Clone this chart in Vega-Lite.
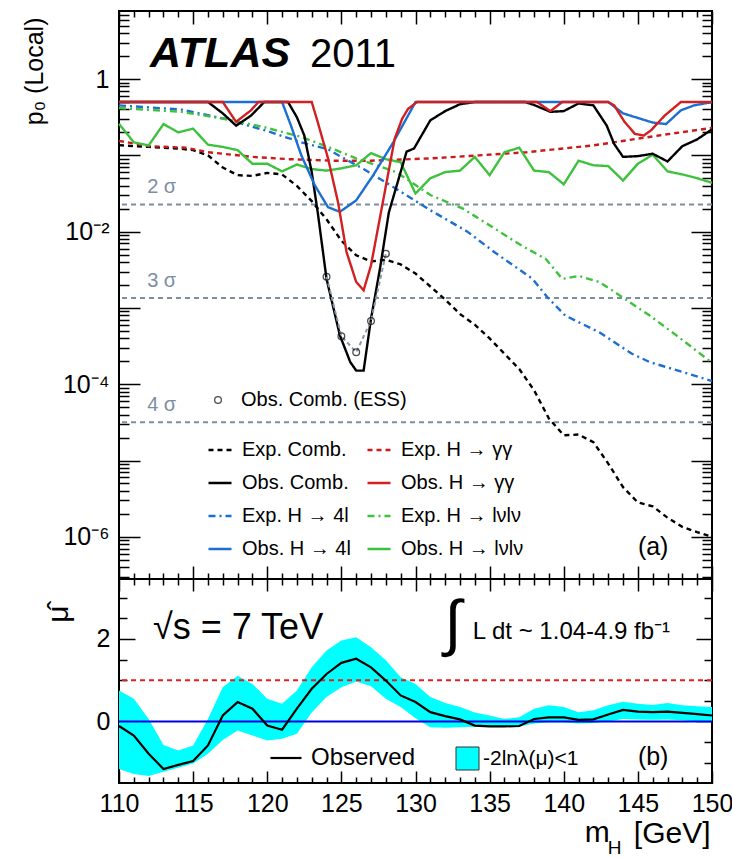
{
  "$schema": "https://vega.github.io/schema/vega-lite/v6.json",
  "background": "white",
  "padding": {"left": 21, "top": 9, "right": 5, "bottom": 5},
  "config": {
    "view": {"stroke": "#000", "strokeWidth": 2},
    "font": "Liberation Sans",
    "axis": {"domain": false, "grid": false, "tickColor": "#000", "tickWidth": 1.5, "labelFont": "Liberation Sans", "labelFontSize": 25, "labelColor": "#000", "titleFont": "Liberation Sans", "titleColor": "#000", "titleFontWeight": "normal", "labelFlush": false, "labelOverlap": false, "labelBound": false},
    "legend": {"labelFont": "Liberation Sans", "labelColor": "#000", "padding": 0, "labelLimit": 0},
    "text": {"font": "Liberation Sans", "color": "#000"}
  },
  "datasets": {
    "curves": [
      {"m":110,"p":0.136,"s":"Exp. Comb."},{"m":111,"p":0.132,"s":"Exp. Comb."},{"m":112,"p":0.129,"s":"Exp. Comb."},{"m":113,"p":0.126,"s":"Exp. Comb."},{"m":114,"p":0.123,"s":"Exp. Comb."},{"m":115,"p":0.117,"s":"Exp. Comb."},{"m":116,"p":0.100,"s":"Exp. Comb."},{"m":117,"p":0.0692,"s":"Exp. Comb."},{"m":118,"p":0.0550,"s":"Exp. Comb."},{"m":119,"p":0.0537,"s":"Exp. Comb."},{"m":120,"p":0.0589,"s":"Exp. Comb."},{"m":121,"p":0.0562,"s":"Exp. Comb."},{"m":122,"p":0.0398,"s":"Exp. Comb."},{"m":123,"p":0.0251,"s":"Exp. Comb."},{"m":124,"p":0.0145,"s":"Exp. Comb."},{"m":125,"p":0.0076,"s":"Exp. Comb."},{"m":126,"p":0.0049,"s":"Exp. Comb."},{"m":127,"p":0.00407,"s":"Exp. Comb."},{"m":128,"p":0.00427,"s":"Exp. Comb."},{"m":129,"p":0.00372,"s":"Exp. Comb."},{"m":130,"p":0.00282,"s":"Exp. Comb."},{"m":131,"p":0.00191,"s":"Exp. Comb."},{"m":132,"p":0.00129,"s":"Exp. Comb."},{"m":133,"p":0.000832,"s":"Exp. Comb."},{"m":134,"p":0.000603,"s":"Exp. Comb."},{"m":135,"p":0.000398,"s":"Exp. Comb."},{"m":136,"p":0.000251,"s":"Exp. Comb."},{"m":137,"p":0.000158,"s":"Exp. Comb."},{"m":138,"p":0.0000832,"s":"Exp. Comb."},{"m":139,"p":0.0000355,"s":"Exp. Comb."},{"m":140,"p":0.0000214,"s":"Exp. Comb."},{"m":141,"p":0.0000219,"s":"Exp. Comb."},{"m":142,"p":0.0000174,"s":"Exp. Comb."},{"m":143,"p":0.00000912,"s":"Exp. Comb."},{"m":144,"p":0.00000447,"s":"Exp. Comb."},{"m":145,"p":0.00000282,"s":"Exp. Comb."},{"m":146,"p":0.00000251,"s":"Exp. Comb."},{"m":147,"p":0.00000178,"s":"Exp. Comb."},{"m":148,"p":0.00000135,"s":"Exp. Comb."},{"m":149,"p":0.00000115,"s":"Exp. Comb."},{"m":150,"p":0.000001,"s":"Exp. Comb."},
      {"m":110,"p":0.155,"s":"Exp. H → γγ"},{"m":112,"p":0.132,"s":"Exp. H → γγ"},{"m":114.5,"p":0.126,"s":"Exp. H → γγ"},{"m":116,"p":0.110,"s":"Exp. H → γγ"},{"m":119,"p":0.0955,"s":"Exp. H → γγ"},{"m":121.5,"p":0.0891,"s":"Exp. H → γγ"},{"m":124.5,"p":0.0851,"s":"Exp. H → γγ"},{"m":127,"p":0.0851,"s":"Exp. H → γγ"},{"m":131,"p":0.0912,"s":"Exp. H → γγ"},{"m":134.3,"p":0.100,"s":"Exp. H → γγ"},{"m":137.5,"p":0.110,"s":"Exp. H → γγ"},{"m":142,"p":0.135,"s":"Exp. H → γγ"},{"m":146.4,"p":0.182,"s":"Exp. H → γγ"},{"m":150,"p":0.229,"s":"Exp. H → γγ"},
      {"m":110,"p":0.452,"s":"Exp. H → 4l"},{"m":114.2,"p":0.398,"s":"Exp. H → 4l"},{"m":117.1,"p":0.302,"s":"Exp. H → 4l"},{"m":119.8,"p":0.214,"s":"Exp. H → 4l"},{"m":122.3,"p":0.148,"s":"Exp. H → 4l"},{"m":124.1,"p":0.120,"s":"Exp. H → 4l"},{"m":125,"p":0.0955,"s":"Exp. H → 4l"},{"m":126.5,"p":0.0661,"s":"Exp. H → 4l"},{"m":128.3,"p":0.0407,"s":"Exp. H → 4l"},{"m":131,"p":0.0191,"s":"Exp. H → 4l"},{"m":133.5,"p":0.0100,"s":"Exp. H → 4l"},{"m":135.4,"p":0.00525,"s":"Exp. H → 4l"},{"m":137.9,"p":0.0024,"s":"Exp. H → 4l"},{"m":138.9,"p":0.00138,"s":"Exp. H → 4l"},{"m":140.1,"p":0.000794,"s":"Exp. H → 4l"},{"m":142.4,"p":0.000479,"s":"Exp. H → 4l"},{"m":144.6,"p":0.000251,"s":"Exp. H → 4l"},{"m":145.8,"p":0.000195,"s":"Exp. H → 4l"},{"m":148,"p":0.000145,"s":"Exp. H → 4l"},{"m":150,"p":0.00011,"s":"Exp. H → 4l"},
      {"m":110,"p":0.417,"s":"Exp. H → lνlν"},{"m":114.2,"p":0.372,"s":"Exp. H → lνlν"},{"m":117.1,"p":0.302,"s":"Exp. H → lνlν"},{"m":119.8,"p":0.234,"s":"Exp. H → lνlν"},{"m":122.3,"p":0.174,"s":"Exp. H → lνlν"},{"m":124.1,"p":0.129,"s":"Exp. H → lνlν"},{"m":126,"p":0.0912,"s":"Exp. H → lνlν"},{"m":128.7,"p":0.0603,"s":"Exp. H → lνlν"},{"m":131,"p":0.0302,"s":"Exp. H → lνlν"},{"m":133.2,"p":0.020,"s":"Exp. H → lνlν"},{"m":135.5,"p":0.0105,"s":"Exp. H → lνlν"},{"m":136.8,"p":0.00724,"s":"Exp. H → lνlν"},{"m":137.5,"p":0.00603,"s":"Exp. H → lνlν"},{"m":138.8,"p":0.00437,"s":"Exp. H → lνlν"},{"m":139.9,"p":0.0024,"s":"Exp. H → lνlν"},{"m":141,"p":0.00263,"s":"Exp. H → lνlν"},{"m":142.4,"p":0.00219,"s":"Exp. H → lνlν"},{"m":143.8,"p":0.00145,"s":"Exp. H → lνlν"},{"m":145.8,"p":0.000794,"s":"Exp. H → lνlν"},{"m":147.6,"p":0.000437,"s":"Exp. H → lνlν"},{"m":150,"p":0.000191,"s":"Exp. H → lνlν"},
      {"m":110,"p":0.259,"s":"Obs. H → lνlν"},{"m":111,"p":0.148,"s":"Obs. H → lνlν"},{"m":112,"p":0.135,"s":"Obs. H → lνlν"},{"m":113,"p":0.257,"s":"Obs. H → lνlν"},{"m":114,"p":0.200,"s":"Obs. H → lνlν"},{"m":115,"p":0.224,"s":"Obs. H → lνlν"},{"m":116,"p":0.138,"s":"Obs. H → lνlν"},{"m":117,"p":0.129,"s":"Obs. H → lνlν"},{"m":118,"p":0.117,"s":"Obs. H → lνlν"},{"m":119,"p":0.0776,"s":"Obs. H → lνlν"},{"m":120,"p":0.0776,"s":"Obs. H → lνlν"},{"m":121,"p":0.0617,"s":"Obs. H → lνlν"},{"m":122,"p":0.0759,"s":"Obs. H → lνlν"},{"m":123,"p":0.0661,"s":"Obs. H → lνlν"},{"m":124,"p":0.0631,"s":"Obs. H → lνlν"},{"m":125,"p":0.0676,"s":"Obs. H → lνlν"},{"m":126,"p":0.0741,"s":"Obs. H → lνlν"},{"m":127,"p":0.107,"s":"Obs. H → lνlν"},{"m":128,"p":0.0891,"s":"Obs. H → lνlν"},{"m":129,"p":0.0813,"s":"Obs. H → lνlν"},{"m":130,"p":0.0316,"s":"Obs. H → lνlν"},{"m":131,"p":0.0501,"s":"Obs. H → lνlν"},{"m":132,"p":0.0603,"s":"Obs. H → lνlν"},{"m":133,"p":0.0631,"s":"Obs. H → lνlν"},{"m":134,"p":0.0955,"s":"Obs. H → lνlν"},{"m":135,"p":0.055,"s":"Obs. H → lνlν"},{"m":136,"p":0.110,"s":"Obs. H → lνlν"},{"m":137,"p":0.126,"s":"Obs. H → lνlν"},{"m":138,"p":0.0631,"s":"Obs. H → lνlν"},{"m":139,"p":0.0603,"s":"Obs. H → lνlν"},{"m":140,"p":0.0417,"s":"Obs. H → lνlν"},{"m":141,"p":0.0851,"s":"Obs. H → lνlν"},{"m":142,"p":0.0741,"s":"Obs. H → lνlν"},{"m":143,"p":0.0724,"s":"Obs. H → lνlν"},{"m":144,"p":0.0468,"s":"Obs. H → lνlν"},{"m":145,"p":0.0776,"s":"Obs. H → lνlν"},{"m":146,"p":0.102,"s":"Obs. H → lνlν"},{"m":147,"p":0.0617,"s":"Obs. H → lνlν"},{"m":148,"p":0.0562,"s":"Obs. H → lνlν"},{"m":149,"p":0.0501,"s":"Obs. H → lνlν"},{"m":150,"p":0.0437,"s":"Obs. H → lνlν"},
      {"m":110,"p":0.5,"s":"Obs. Comb."},{"m":116,"p":0.5,"s":"Obs. Comb."},{"m":117,"p":0.355,"s":"Obs. Comb."},{"m":117.9,"p":0.245,"s":"Obs. Comb."},{"m":118.9,"p":0.331,"s":"Obs. Comb."},{"m":119.8,"p":0.5,"s":"Obs. Comb."},{"m":121.4,"p":0.5,"s":"Obs. Comb."},{"m":122,"p":0.316,"s":"Obs. Comb."},{"m":122.5,"p":0.182,"s":"Obs. Comb."},{"m":123,"p":0.0603,"s":"Obs. Comb."},{"m":123.4,"p":0.0182,"s":"Obs. Comb."},{"m":124,"p":0.0024,"s":"Obs. Comb."},{"m":124.9,"p":0.000437,"s":"Obs. Comb."},{"m":125.6,"p":0.000195,"s":"Obs. Comb."},{"m":126,"p":0.000151,"s":"Obs. Comb."},{"m":126.5,"p":0.000151,"s":"Obs. Comb."},{"m":127,"p":0.000724,"s":"Obs. Comb."},{"m":127.6,"p":0.00324,"s":"Obs. Comb."},{"m":128.2,"p":0.0178,"s":"Obs. Comb."},{"m":128.5,"p":0.0282,"s":"Obs. Comb."},{"m":129.4,"p":0.112,"s":"Obs. Comb."},{"m":129.9,"p":0.123,"s":"Obs. Comb."},{"m":131,"p":0.288,"s":"Obs. Comb."},{"m":132,"p":0.380,"s":"Obs. Comb."},{"m":133,"p":0.468,"s":"Obs. Comb."},{"m":134,"p":0.5,"s":"Obs. Comb."},{"m":137.4,"p":0.5,"s":"Obs. Comb."},{"m":138,"p":0.457,"s":"Obs. Comb."},{"m":139.1,"p":0.372,"s":"Obs. Comb."},{"m":140,"p":0.380,"s":"Obs. Comb."},{"m":141,"p":0.479,"s":"Obs. Comb."},{"m":142,"p":0.452,"s":"Obs. Comb."},{"m":142.9,"p":0.245,"s":"Obs. Comb."},{"m":143.4,"p":0.141,"s":"Obs. Comb."},{"m":144,"p":0.0955,"s":"Obs. Comb."},{"m":145,"p":0.0977,"s":"Obs. Comb."},{"m":146,"p":0.105,"s":"Obs. Comb."},{"m":147,"p":0.0832,"s":"Obs. Comb."},{"m":148,"p":0.132,"s":"Obs. Comb."},{"m":149,"p":0.162,"s":"Obs. Comb."},{"m":150,"p":0.219,"s":"Obs. Comb."},
      {"m":110,"p":0.5,"s":"Obs. H → 4l"},{"m":121,"p":0.5,"s":"Obs. H → 4l"},{"m":121.6,"p":0.245,"s":"Obs. H → 4l"},{"m":122.3,"p":0.1,"s":"Obs. H → 4l"},{"m":123.2,"p":0.0407,"s":"Obs. H → 4l"},{"m":124.1,"p":0.0209,"s":"Obs. H → 4l"},{"m":124.9,"p":0.0182,"s":"Obs. H → 4l"},{"m":126,"p":0.0257,"s":"Obs. H → 4l"},{"m":127.15,"p":0.055,"s":"Obs. H → 4l"},{"m":128.5,"p":0.148,"s":"Obs. H → 4l"},{"m":130,"p":0.5,"s":"Obs. H → 4l"},{"m":143,"p":0.5,"s":"Obs. H → 4l"},{"m":144,"p":0.355,"s":"Obs. H → 4l"},{"m":146,"p":0.269,"s":"Obs. H → 4l"},{"m":146.9,"p":0.257,"s":"Obs. H → 4l"},{"m":147.9,"p":0.389,"s":"Obs. H → 4l"},{"m":148.8,"p":0.452,"s":"Obs. H → 4l"},{"m":149.8,"p":0.49,"s":"Obs. H → 4l"},{"m":150,"p":0.5,"s":"Obs. H → 4l"},
      {"m":110,"p":0.5,"s":"Obs. H → γγ"},{"m":117,"p":0.5,"s":"Obs. H → γγ"},{"m":117.9,"p":0.275,"s":"Obs. H → γγ"},{"m":118.9,"p":0.389,"s":"Obs. H → γγ"},{"m":119.4,"p":0.5,"s":"Obs. H → γγ"},{"m":123,"p":0.5,"s":"Obs. H → γγ"},{"m":123.4,"p":0.275,"s":"Obs. H → γγ"},{"m":124.1,"p":0.0912,"s":"Obs. H → γγ"},{"m":124.77,"p":0.0245,"s":"Obs. H → γγ"},{"m":125.35,"p":0.0054,"s":"Obs. H → γγ"},{"m":126,"p":0.00219,"s":"Obs. H → γγ"},{"m":126.5,"p":0.0017,"s":"Obs. H → γγ"},{"m":127,"p":0.00363,"s":"Obs. H → γγ"},{"m":127.8,"p":0.0245,"s":"Obs. H → γγ"},{"m":128.6,"p":0.166,"s":"Obs. H → γγ"},{"m":129.1,"p":0.302,"s":"Obs. H → γγ"},{"m":129.5,"p":0.407,"s":"Obs. H → γγ"},{"m":130.1,"p":0.5,"s":"Obs. H → γγ"},{"m":138.2,"p":0.5,"s":"Obs. H → γγ"},{"m":139.1,"p":0.380,"s":"Obs. H → γγ"},{"m":139.9,"p":0.5,"s":"Obs. H → γγ"},{"m":143,"p":0.5,"s":"Obs. H → γγ"},{"m":143.4,"p":0.452,"s":"Obs. H → γγ"},{"m":144.1,"p":0.275,"s":"Obs. H → γγ"},{"m":144.8,"p":0.191,"s":"Obs. H → γγ"},{"m":145.4,"p":0.182,"s":"Obs. H → γγ"},{"m":145.9,"p":0.214,"s":"Obs. H → γγ"},{"m":146.8,"p":0.331,"s":"Obs. H → γγ"},{"m":147.9,"p":0.5,"s":"Obs. H → γγ"},{"m":150,"p":0.5,"s":"Obs. H → γγ"}
    ],
    "ess": [
      {"m":124,"p":0.00257},{"m":125,"p":0.000427},{"m":126,"p":0.000263},{"m":127,"p":0.000676},{"m":128,"p":0.00513}
    ],
    "sig": [
      {"lab":"2 σ","p":0.02275},{"lab":"3 σ","p":0.00135},{"lab":"4 σ","p":0.00003167}
    ],
    "mu": [
      {"m":110,"mu":-0.11,"lo":-1.15,"hi":0.75},{"m":111,"mu":-0.34,"lo":-1.27,"hi":0.55},{"m":112,"mu":-0.78,"lo":-1.32,"hi":0.06},{"m":113,"mu":-1.15,"lo":-1.22,"hi":-0.57},{"m":114,"mu":-1.05,"lo":-1.12,"hi":-0.70},{"m":115,"mu":-0.96,"lo":-1.02,"hi":-0.58},{"m":116,"mu":-0.58,"lo":-0.78,"hi":0.06},{"m":117,"mu":0.145,"lo":-0.45,"hi":0.83},{"m":118,"mu":0.47,"lo":-0.22,"hi":1.11},{"m":119,"mu":0.31,"lo":-0.34,"hi":0.91},{"m":120,"mu":-0.10,"lo":-0.46,"hi":0.55},{"m":121,"mu":-0.20,"lo":-0.42,"hi":0.43},{"m":122,"mu":0.31,"lo":-0.30,"hi":0.75},{"m":123,"mu":0.79,"lo":0.22,"hi":1.31},{"m":124,"mu":1.15,"lo":0.59,"hi":1.72},{"m":125,"mu":1.42,"lo":0.83,"hi":1.96},{"m":126,"mu":1.52,"lo":0.97,"hi":2.04},{"m":127,"mu":1.31,"lo":0.85,"hi":1.80},{"m":128,"mu":0.99,"lo":0.55,"hi":1.48},{"m":129,"mu":0.63,"lo":0.35,"hi":1.07},{"m":130,"mu":0.47,"lo":0.08,"hi":0.91},{"m":131,"mu":0.225,"lo":-0.14,"hi":0.59},{"m":132,"mu":0.13,"lo":-0.15,"hi":0.45},{"m":133,"mu":0.05,"lo":-0.14,"hi":0.35},{"m":134,"mu":-0.10,"lo":-0.13,"hi":0.22},{"m":135,"mu":-0.12,"lo":-0.13,"hi":0.145},{"m":136,"mu":-0.12,"lo":-0.12,"hi":0.06},{"m":137,"mu":-0.11,"lo":-0.12,"hi":0.10},{"m":138,"mu":0.06,"lo":-0.05,"hi":0.31},{"m":139,"mu":0.10,"lo":-0.02,"hi":0.39},{"m":140,"mu":0.10,"lo":-0.02,"hi":0.35},{"m":141,"mu":0.04,"lo":-0.05,"hi":0.225},{"m":142,"mu":0.05,"lo":-0.04,"hi":0.27},{"m":143,"mu":0.17,"lo":0.0,"hi":0.39},{"m":144,"mu":0.28,"lo":0.06,"hi":0.48},{"m":145,"mu":0.24,"lo":0.05,"hi":0.43},{"m":146,"mu":0.225,"lo":0.04,"hi":0.40},{"m":147,"mu":0.24,"lo":0.05,"hi":0.45},{"m":148,"mu":0.21,"lo":0.03,"hi":0.39},{"m":149,"mu":0.18,"lo":0.0,"hi":0.37},{"m":150,"mu":0.145,"lo":-0.02,"hi":0.35}
    ]
  },
  "spacing": 0,
  "bounds": "flush",
  "resolve": {
    "scale": {"x": "independent", "y": "independent", "stroke": "independent", "strokeDash": "independent", "fill": "independent", "shape": "independent"},
    "legend": {"stroke": "independent", "strokeDash": "independent", "fill": "independent", "shape": "independent"}
  },
  "vconcat": [
    {
      "width": 593,
      "height": 568,
      "resolve": {"axis": {"x": "independent", "y": "independent"}},
      "layer": [
        {
          "data": {"name": "sig"},
          "mark": {"type": "rule", "stroke": "#7d8ea2", "strokeWidth": 2, "strokeDash": [5, 4]},
          "encoding": {
            "y": {"field": "p", "type": "quantitative", "scale": {"type": "log", "domain": [2.8e-7, 7.8], "nice": false}, "axis": null}
          }
        },
        {
          "data": {"name": "sig"},
          "mark": {"type": "text", "align": "left", "baseline": "alphabetic", "dy": -11, "fontSize": 20, "color": "#7d8ea2"},
          "encoding": {
            "x": {"datum": 111.9, "type": "quantitative", "scale": {"domain": [110, 150], "nice": false, "zero": false}, "axis": null},
            "y": {"field": "p", "type": "quantitative", "scale": {"type": "log", "domain": [2.8e-7, 7.8], "nice": false}, "axis": null},
            "text": {"field": "lab"}
          }
        },
        {
          "data": {"name": "curves"},
          "transform": [{"filter": {"field": "s", "oneOf": ["Exp. Comb.", "Exp. H → γγ", "Exp. H → 4l", "Exp. H → lνlν"]}}],
          "mark": {"type": "line", "strokeWidth": 2.4},
          "encoding": {
            "x": {"field": "m", "type": "quantitative", "scale": {"domain": [110, 150], "nice": false, "zero": false},
                  "axis": {"orient": "bottom", "values": [110,115,120,125,130,135,140,145,150], "labels": false, "tickSize": -13, "title": null}},
            "y": {"field": "p", "type": "quantitative", "scale": {"type": "log", "domain": [2.8e-7, 7.8], "nice": false},
                  "axis": {"orient": "left", "values": [0.000001, 0.0001, 0.01, 1], "ticks": false, "labelPadding": 10, "labelFontSize": 25,
                           "labelExpr": "datum.value > 0.5 ? '1' : datum.value > 0.001 ? '10⁻²' : datum.value > 0.00001 ? '10⁻⁴' : '10⁻⁶'",
                           "title": "p₀ (Local)", "titleFontSize": 25, "titleAngle": 270, "titleAlign": "right", "titleBaseline": "middle", "titleX": -85, "titleY": 6}},
            "stroke": {"field": "s", "type": "nominal",
                       "scale": {"domain": ["Exp. Comb.", "Obs. Comb.", "Exp. H → 4l", "Obs. H → 4l", "Exp. H → γγ", "Obs. H → γγ", "Exp. H → lνlν", "Obs. H → lνlν"],
                                 "range": ["#000000", "#000000", "#1c6fd0", "#1c6fd0", "#cc1a1a", "#d21f1f", "#3ec23e", "#3ec23e"]},
                       "legend": {"orient": "none", "legendX": 88, "legendY": 426, "columns": 2, "title": null, "symbolType": "stroke", "symbolSize": 529, "symbolStrokeWidth": 2.4, "labelFontSize": 20, "labelOffset": 9, "rowPadding": 10, "columnPadding": 11}},
            "strokeDash": {"field": "s", "type": "nominal",
                       "scale": {"domain": ["Exp. Comb.", "Obs. Comb.", "Exp. H → 4l", "Obs. H → 4l", "Exp. H → γγ", "Obs. H → γγ", "Exp. H → lνlν", "Obs. H → lνlν"],
                                 "range": [[5, 4], [1, 0], [7, 4, 2, 4], [1, 0], [5, 4], [1, 0], [7, 4, 2, 4], [1, 0]]},
                       "legend": {"orient": "none", "legendX": 88, "legendY": 426, "columns": 2, "title": null, "symbolType": "stroke", "symbolSize": 529, "symbolStrokeWidth": 2.4, "labelFontSize": 20, "labelOffset": 9, "rowPadding": 10, "columnPadding": 11}}
          }
        },
        {
          "data": {"name": "curves"},
          "transform": [{"filter": {"field": "s", "equal": "Obs. H → lνlν"}}],
          "mark": {"type": "line", "strokeWidth": 2.4},
          "encoding": {
            "x": {"field": "m", "type": "quantitative", "scale": {"domain": [110, 150], "nice": false, "zero": false},
                  "axis": {"orient": "bottom", "values": [111,112,113,114,116,117,118,119,121,122,123,124,126,127,128,129,131,132,133,134,136,137,138,139,141,142,143,144,146,147,148,149], "labels": false, "tickSize": -6, "title": null}},
            "y": {"field": "p", "type": "quantitative", "scale": {"type": "log", "domain": [2.8e-7, 7.8], "nice": false},
                  "axis": {"orient": "left", "values": [0.000001, 0.00001, 0.0001, 0.001, 0.01, 0.1, 1], "labels": false, "tickSize": -21, "title": null}},
            "stroke": {"field": "s", "type": "nominal",
                       "scale": {"domain": ["Exp. Comb.", "Obs. Comb.", "Exp. H → 4l", "Obs. H → 4l", "Exp. H → γγ", "Obs. H → γγ", "Exp. H → lνlν", "Obs. H → lνlν"],
                                 "range": ["#000000", "#000000", "#1c6fd0", "#1c6fd0", "#cc1a1a", "#d21f1f", "#3ec23e", "#3ec23e"]},
                       "legend": {"orient": "none", "legendX": 88, "legendY": 426, "columns": 2, "title": null, "symbolType": "stroke", "symbolSize": 529, "symbolStrokeWidth": 2.4, "labelFontSize": 20, "labelOffset": 9, "rowPadding": 10, "columnPadding": 11}},
            "strokeDash": {"field": "s", "type": "nominal",
                       "scale": {"domain": ["Exp. Comb.", "Obs. Comb.", "Exp. H → 4l", "Obs. H → 4l", "Exp. H → γγ", "Obs. H → γγ", "Exp. H → lνlν", "Obs. H → lνlν"],
                                 "range": [[5, 4], [1, 0], [7, 4, 2, 4], [1, 0], [5, 4], [1, 0], [7, 4, 2, 4], [1, 0]]},
                       "legend": {"orient": "none", "legendX": 88, "legendY": 426, "columns": 2, "title": null, "symbolType": "stroke", "symbolSize": 529, "symbolStrokeWidth": 2.4, "labelFontSize": 20, "labelOffset": 9, "rowPadding": 10, "columnPadding": 11}}
          }
        },
        {
          "data": {"name": "curves"},
          "transform": [{"filter": {"field": "s", "equal": "Obs. Comb."}}],
          "mark": {"type": "line", "strokeWidth": 2.4},
          "encoding": {
            "x": {"field": "m", "type": "quantitative", "scale": {"domain": [110, 150], "nice": false, "zero": false},
                  "axis": {"orient": "top", "values": [110,115,120,125,130,135,140,145,150], "labels": false, "tickSize": -13, "title": null}},
            "y": {"field": "p", "type": "quantitative", "scale": {"type": "log", "domain": [2.8e-7, 7.8], "nice": false},
                  "axis": {"orient": "left", "values": [3e-7,4e-7,5e-7,6e-7,7e-7,8e-7,9e-7,2e-6,3e-6,4e-6,5e-6,6e-6,7e-6,8e-6,9e-6,2e-5,3e-5,4e-5,5e-5,6e-5,7e-5,8e-5,9e-5,2e-4,3e-4,4e-4,5e-4,6e-4,7e-4,8e-4,9e-4,0.002,0.003,0.004,0.005,0.006,0.007,0.008,0.009,0.02,0.03,0.04,0.05,0.06,0.07,0.08,0.09,0.2,0.3,0.4,0.5,0.6,0.7,0.8,0.9,2,3,4,5,6,7], "labels": false, "tickSize": -10, "title": null}},
            "stroke": {"field": "s", "type": "nominal",
                       "scale": {"domain": ["Exp. Comb.", "Obs. Comb.", "Exp. H → 4l", "Obs. H → 4l", "Exp. H → γγ", "Obs. H → γγ", "Exp. H → lνlν", "Obs. H → lνlν"],
                                 "range": ["#000000", "#000000", "#1c6fd0", "#1c6fd0", "#cc1a1a", "#d21f1f", "#3ec23e", "#3ec23e"]},
                       "legend": {"orient": "none", "legendX": 88, "legendY": 426, "columns": 2, "title": null, "symbolType": "stroke", "symbolSize": 529, "symbolStrokeWidth": 2.4, "labelFontSize": 20, "labelOffset": 9, "rowPadding": 10, "columnPadding": 11}},
            "strokeDash": {"field": "s", "type": "nominal",
                       "scale": {"domain": ["Exp. Comb.", "Obs. Comb.", "Exp. H → 4l", "Obs. H → 4l", "Exp. H → γγ", "Obs. H → γγ", "Exp. H → lνlν", "Obs. H → lνlν"],
                                 "range": [[5, 4], [1, 0], [7, 4, 2, 4], [1, 0], [5, 4], [1, 0], [7, 4, 2, 4], [1, 0]]},
                       "legend": {"orient": "none", "legendX": 88, "legendY": 426, "columns": 2, "title": null, "symbolType": "stroke", "symbolSize": 529, "symbolStrokeWidth": 2.4, "labelFontSize": 20, "labelOffset": 9, "rowPadding": 10, "columnPadding": 11}}
          }
        },
        {
          "data": {"name": "curves"},
          "transform": [{"filter": {"field": "s", "equal": "Obs. H → 4l"}}],
          "mark": {"type": "line", "strokeWidth": 2.4},
          "encoding": {
            "x": {"field": "m", "type": "quantitative", "scale": {"domain": [110, 150], "nice": false, "zero": false},
                  "axis": {"orient": "top", "values": [111,112,113,114,116,117,118,119,121,122,123,124,126,127,128,129,131,132,133,134,136,137,138,139,141,142,143,144,146,147,148,149], "labels": false, "tickSize": -6, "title": null}},
            "y": {"field": "p", "type": "quantitative", "scale": {"type": "log", "domain": [2.8e-7, 7.8], "nice": false},
                  "axis": {"orient": "right", "values": [0.000001, 0.00001, 0.0001, 0.001, 0.01, 0.1, 1], "labels": false, "tickSize": -21, "title": null}},
            "stroke": {"field": "s", "type": "nominal",
                       "scale": {"domain": ["Exp. Comb.", "Obs. Comb.", "Exp. H → 4l", "Obs. H → 4l", "Exp. H → γγ", "Obs. H → γγ", "Exp. H → lνlν", "Obs. H → lνlν"],
                                 "range": ["#000000", "#000000", "#1c6fd0", "#1c6fd0", "#cc1a1a", "#d21f1f", "#3ec23e", "#3ec23e"]},
                       "legend": {"orient": "none", "legendX": 88, "legendY": 426, "columns": 2, "title": null, "symbolType": "stroke", "symbolSize": 529, "symbolStrokeWidth": 2.4, "labelFontSize": 20, "labelOffset": 9, "rowPadding": 10, "columnPadding": 11}},
            "strokeDash": {"field": "s", "type": "nominal",
                       "scale": {"domain": ["Exp. Comb.", "Obs. Comb.", "Exp. H → 4l", "Obs. H → 4l", "Exp. H → γγ", "Obs. H → γγ", "Exp. H → lνlν", "Obs. H → lνlν"],
                                 "range": [[5, 4], [1, 0], [7, 4, 2, 4], [1, 0], [5, 4], [1, 0], [7, 4, 2, 4], [1, 0]]},
                       "legend": {"orient": "none", "legendX": 88, "legendY": 426, "columns": 2, "title": null, "symbolType": "stroke", "symbolSize": 529, "symbolStrokeWidth": 2.4, "labelFontSize": 20, "labelOffset": 9, "rowPadding": 10, "columnPadding": 11}}
          }
        },
        {
          "data": {"name": "curves"},
          "transform": [{"filter": {"field": "s", "equal": "Obs. H → γγ"}}],
          "mark": {"type": "line", "strokeWidth": 2.4},
          "encoding": {
            "x": {"field": "m", "type": "quantitative", "scale": {"domain": [110, 150], "nice": false, "zero": false}, "axis": null},
            "y": {"field": "p", "type": "quantitative", "scale": {"type": "log", "domain": [2.8e-7, 7.8], "nice": false},
                  "axis": {"orient": "right", "values": [3e-7,4e-7,5e-7,6e-7,7e-7,8e-7,9e-7,2e-6,3e-6,4e-6,5e-6,6e-6,7e-6,8e-6,9e-6,2e-5,3e-5,4e-5,5e-5,6e-5,7e-5,8e-5,9e-5,2e-4,3e-4,4e-4,5e-4,6e-4,7e-4,8e-4,9e-4,0.002,0.003,0.004,0.005,0.006,0.007,0.008,0.009,0.02,0.03,0.04,0.05,0.06,0.07,0.08,0.09,0.2,0.3,0.4,0.5,0.6,0.7,0.8,0.9,2,3,4,5,6,7], "labels": false, "tickSize": -10, "title": null}},
            "stroke": {"field": "s", "type": "nominal",
                       "scale": {"domain": ["Exp. Comb.", "Obs. Comb.", "Exp. H → 4l", "Obs. H → 4l", "Exp. H → γγ", "Obs. H → γγ", "Exp. H → lνlν", "Obs. H → lνlν"],
                                 "range": ["#000000", "#000000", "#1c6fd0", "#1c6fd0", "#cc1a1a", "#d21f1f", "#3ec23e", "#3ec23e"]},
                       "legend": {"orient": "none", "legendX": 88, "legendY": 426, "columns": 2, "title": null, "symbolType": "stroke", "symbolSize": 529, "symbolStrokeWidth": 2.4, "labelFontSize": 20, "labelOffset": 9, "rowPadding": 10, "columnPadding": 11}},
            "strokeDash": {"field": "s", "type": "nominal",
                       "scale": {"domain": ["Exp. Comb.", "Obs. Comb.", "Exp. H → 4l", "Obs. H → 4l", "Exp. H → γγ", "Obs. H → γγ", "Exp. H → lνlν", "Obs. H → lνlν"],
                                 "range": [[5, 4], [1, 0], [7, 4, 2, 4], [1, 0], [5, 4], [1, 0], [7, 4, 2, 4], [1, 0]]},
                       "legend": {"orient": "none", "legendX": 88, "legendY": 426, "columns": 2, "title": null, "symbolType": "stroke", "symbolSize": 529, "symbolStrokeWidth": 2.4, "labelFontSize": 20, "labelOffset": 9, "rowPadding": 10, "columnPadding": 11}}
          }
        },
        {
          "data": {"name": "ess"},
          "mark": {"type": "line", "stroke": "#8797a8", "strokeWidth": 2, "strokeDash": [4, 3]},
          "encoding": {
            "x": {"field": "m", "type": "quantitative", "scale": {"domain": [110, 150], "nice": false, "zero": false}, "axis": null},
            "y": {"field": "p", "type": "quantitative", "scale": {"type": "log", "domain": [2.8e-7, 7.8], "nice": false}, "axis": null}
          }
        },
        {
          "data": {"name": "ess"},
          "mark": {"type": "point", "filled": false, "size": 45, "strokeWidth": 1.3, "color": "#000"},
          "encoding": {
            "x": {"field": "m", "type": "quantitative", "scale": {"domain": [110, 150], "nice": false, "zero": false}, "axis": null},
            "y": {"field": "p", "type": "quantitative", "scale": {"type": "log", "domain": [2.8e-7, 7.8], "nice": false}, "axis": null},
            "shape": {"datum": "Obs. Comb. (ESS)", "type": "nominal", "scale": {"range": ["circle"]},
                      "legend": {"orient": "none", "legendX": 89, "legendY": 379, "title": null, "labelFontSize": 20, "labelOffset": 13, "symbolSize": 45, "symbolStrokeColor": "#000", "symbolStrokeWidth": 1.3}}
          }
        },
        {
          "data": {"values": [{}]},
          "mark": {"type": "text", "text": "ATLAS", "fontSize": 43, "fontWeight": "bold", "fontStyle": "italic", "align": "left", "baseline": "alphabetic"},
          "encoding": {
            "x": {"datum": 112.09, "type": "quantitative", "scale": {"domain": [110, 150], "nice": false, "zero": false}, "axis": null},
            "y": {"datum": 1.44, "type": "quantitative", "scale": {"type": "log", "domain": [2.8e-7, 7.8], "nice": false}, "axis": null}
          }
        },
        {
          "data": {"values": [{}]},
          "mark": {"type": "text", "text": "2011", "fontSize": 40, "align": "left", "baseline": "alphabetic"},
          "encoding": {
            "x": {"datum": 122.88, "type": "quantitative", "scale": {"domain": [110, 150], "nice": false, "zero": false}, "axis": null},
            "y": {"datum": 1.44, "type": "quantitative", "scale": {"type": "log", "domain": [2.8e-7, 7.8], "nice": false}, "axis": null}
          }
        },
        {
          "data": {"values": [{}]},
          "mark": {"type": "text", "text": "(a)", "fontSize": 25, "align": "left", "baseline": "middle"},
          "encoding": {
            "x": {"datum": 145.0, "type": "quantitative", "scale": {"domain": [110, 150], "nice": false, "zero": false}, "axis": null},
            "y": {"datum": 7.35e-7, "type": "quantitative", "scale": {"type": "log", "domain": [2.8e-7, 7.8], "nice": false}, "axis": null}
          }
        }
      ]
    },
    {
      "width": 593,
      "height": 204,
      "resolve": {"axis": {"x": "independent", "y": "independent"}},
      "layer": [
        {
          "data": {"name": "mu"},
          "mark": {"type": "area"},
          "encoding": {
            "x": {"field": "m", "type": "quantitative", "scale": {"domain": [110, 150], "nice": false, "zero": false},
                  "axis": {"orient": "bottom", "values": [110,115,120,125,130,135,140,145,150], "ticks": false, "labelPadding": 8, "labelFontSize": 25,
                           "title": "[GeV]", "titleFontSize": 30, "titleAnchor": "end", "titleAlign": "right", "titleBaseline": "alphabetic", "titleX": 591, "titleY": 59}},
            "y": {"field": "hi", "type": "quantitative", "scale": {"domain": [-1.49, 3.45], "nice": false, "zero": false},
                  "axis": {"orient": "left", "values": [0, 2], "ticks": false, "labelPadding": 9, "labelFontSize": 25,
                           "title": "μ̂", "titleFontSize": 30, "titleAngle": 270, "titleAlign": "right", "titleBaseline": "middle", "titleX": -61, "titleY": 26}},
            "y2": {"field": "lo"},
            "fill": {"datum": "-2lnλ(μ)<1", "type": "nominal", "scale": {"range": ["#00ffff"]},
                     "legend": {"orient": "none", "legendX": 336, "legendY": 167, "title": null, "symbolType": "square", "symbolSize": 530, "symbolStrokeColor": "#333", "symbolStrokeWidth": 1, "labelFontSize": 21, "labelOffset": 3}}
          }
        },
        {
          "data": {"values": [{}]},
          "mark": {"type": "rule", "stroke": "#0000e6", "strokeWidth": 2},
          "encoding": {
            "y": {"datum": 0, "type": "quantitative", "scale": {"domain": [-1.49, 3.45], "nice": false, "zero": false}, "axis": null}
          }
        },
        {
          "data": {"values": [{}]},
          "mark": {"type": "rule", "stroke": "#e02020", "strokeWidth": 2, "strokeDash": [5, 4]},
          "encoding": {
            "y": {"datum": 1, "type": "quantitative", "scale": {"domain": [-1.49, 3.45], "nice": false, "zero": false}, "axis": null}
          }
        },
        {
          "data": {"name": "mu"},
          "mark": {"type": "line", "strokeWidth": 2.2},
          "encoding": {
            "x": {"field": "m", "type": "quantitative", "scale": {"domain": [110, 150], "nice": false, "zero": false},
                  "axis": {"orient": "bottom", "values": [110,115,120,125,130,135,140,145,150], "labels": false, "tickSize": -12, "title": null}},
            "y": {"field": "mu", "type": "quantitative", "scale": {"domain": [-1.49, 3.45], "nice": false, "zero": false},
                  "axis": {"orient": "left", "values": [0, 2], "labels": false, "tickSize": -16, "title": null}},
            "stroke": {"datum": "Observed", "type": "nominal", "scale": {"range": ["#000000"]},
                       "legend": {"orient": "none", "legendX": 150, "legendY": 162, "title": null, "symbolType": "stroke", "symbolSize": 961, "symbolStrokeWidth": 2.2, "labelFontSize": 24, "labelOffset": 8}}
          }
        },
        {
          "data": {"values": [{}]},
          "mark": {"type": "text", "text": "√s = 7 TeV", "fontSize": 36, "align": "left", "baseline": "alphabetic"},
          "encoding": {
            "x": {"datum": 112.29, "type": "quantitative", "scale": {"domain": [110, 150], "nice": false, "zero": false},
                  "axis": {"orient": "bottom", "values": [111,112,113,114,116,117,118,119,121,122,123,124,126,127,128,129,131,132,133,134,136,137,138,139,141,142,143,144,146,147,148,149], "labels": false, "tickSize": -6, "title": null}},
            "y": {"datum": 1.99, "type": "quantitative", "scale": {"domain": [-1.49, 3.45], "nice": false, "zero": false},
                  "axis": {"orient": "left", "values": [-1, -0.5, 0.5, 1, 1.5, 2.5, 3], "labels": false, "tickSize": -8, "title": null}}
          }
        },
        {
          "data": {"values": [{}]},
          "mark": {"type": "text", "text": "∫", "fontSize": 62, "align": "center", "baseline": "middle"},
          "encoding": {
            "x": {"datum": 132.52, "type": "quantitative", "scale": {"domain": [110, 150], "nice": false, "zero": false},
                  "axis": {"orient": "top", "values": [110,115,120,125,130,135,140,145,150], "labels": false, "tickSize": -12, "title": null}},
            "y": {"datum": 2.33, "type": "quantitative", "scale": {"domain": [-1.49, 3.45], "nice": false, "zero": false},
                  "axis": {"orient": "right", "values": [0, 2], "labels": false, "tickSize": -16, "title": null}}
          }
        },
        {
          "data": {"values": [{}]},
          "mark": {"type": "text", "text": "L dt ~ 1.04-4.9 fb⁻¹", "fontSize": 24, "align": "left", "baseline": "alphabetic"},
          "encoding": {
            "x": {"datum": 133.87, "type": "quantitative", "scale": {"domain": [110, 150], "nice": false, "zero": false},
                  "axis": {"orient": "top", "values": [111,112,113,114,116,117,118,119,121,122,123,124,126,127,128,129,131,132,133,134,136,137,138,139,141,142,143,144,146,147,148,149], "labels": false, "tickSize": -6, "title": null}},
            "y": {"datum": 1.99, "type": "quantitative", "scale": {"domain": [-1.49, 3.45], "nice": false, "zero": false},
                  "axis": {"orient": "right", "values": [-1, -0.5, 0.5, 1, 1.5, 2.5, 3], "labels": false, "tickSize": -8, "title": null}}
          }
        },
        {
          "data": {"values": [{}]},
          "mark": {"type": "text", "text": "(b)", "fontSize": 25, "align": "left", "baseline": "middle"},
          "encoding": {
            "x": {"datum": 145.0, "type": "quantitative", "scale": {"domain": [110, 150], "nice": false, "zero": false}, "axis": null},
            "y": {"datum": -0.86, "type": "quantitative", "scale": {"domain": [-1.49, 3.45], "nice": false, "zero": false}, "axis": null}
          }
        },
        {
          "data": {"values": [{}]},
          "mark": {"type": "text", "text": "m", "fontSize": 30, "align": "left", "baseline": "alphabetic"},
          "encoding": {
            "x": {"datum": 141.42, "type": "quantitative", "scale": {"domain": [110, 150], "nice": false, "zero": false}, "axis": null},
            "y": {"datum": -2.92, "type": "quantitative", "scale": {"domain": [-1.49, 3.45], "nice": false, "zero": false}, "axis": null}
          }
        },
        {
          "data": {"values": [{}]},
          "mark": {"type": "text", "text": "H", "fontSize": 19, "align": "left", "baseline": "alphabetic"},
          "encoding": {
            "x": {"datum": 142.97, "type": "quantitative", "scale": {"domain": [110, 150], "nice": false, "zero": false}, "axis": null},
            "y": {"datum": -3.2, "type": "quantitative", "scale": {"domain": [-1.49, 3.45], "nice": false, "zero": false}, "axis": null}
          }
        }
      ]
    }
  ]
}
